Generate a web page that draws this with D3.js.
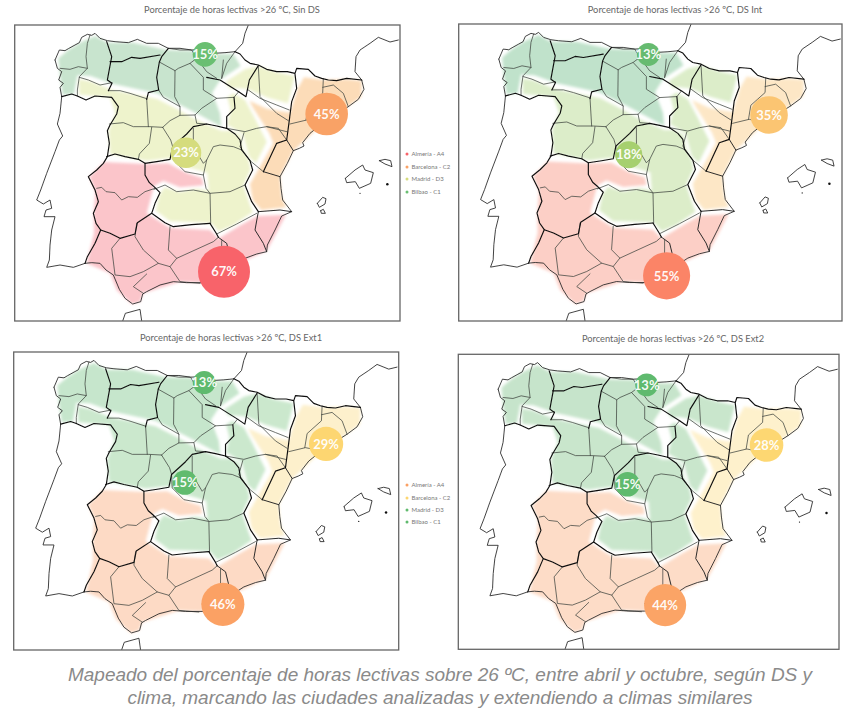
<!DOCTYPE html>
<html lang="es"><head><meta charset="utf-8">
<script src="https://cdn.jsdelivr.net/npm/d3@7"></script>
<style>html,body{margin:0;padding:0;background:#fff}svg{display:block}</style>
</head><body><div id="c"></div>
<script>
// ---------- Chart values ----------
const panelTitles = ["Porcentaje de horas lectivas >26 ºC, Sin DS","Porcentaje de horas lectivas >26 ºC, DS Int","Porcentaje de horas lectivas >26 ºC, DS Ext1","Porcentaje de horas lectivas >26 ºC, DS Ext2"];
const cityLabels = ["Almería - A4","Barcelona - C2","Madrid - D3","Bilbao - C1"];
const almeriaValues = [67,55,46,44];
const barcelonaValues = [45,35,29,28];
const madridValues = [23,18,15,15];
const bilbaoValues = [15,13,13,13];
const captionLines = ["Mapeado del porcentaje de horas lectivas sobre 26 ºC, entre abril y octubre, según DS y","clima, marcando las ciudades analizadas y extendiendo a climas similares"];

// ---------- Map geometry (map units of a common base map) ----------
const cityLocations = {
  almeria:[[672,815],[671,828],[672,827],[672,830]],
  barcelona:[[980,342],[980,347],[982,349],[980,348]],
  madrid:[[558,458],[557,466],[558,464],[558,466]],
  bilbao:[[615,163],[616,166],[616,166],[616,167]]
};
const zoneC1 = [[[175,175],[205,150],[240,128],[285,108],[322,128],[400,128],[500,150],[575,152],[640,162],[700,162],[722,198],[662,238],[636,278],[660,340],[664,380],[590,340],[540,314],[470,280],[340,252],[272,228],[232,226],[222,282],[188,284],[180,230]]];
const zoneD3 = [
 [[236,238],[270,244],[336,270],[470,296],[536,330],[586,358],[664,392],[692,392],[722,406],[728,444],[746,480],[752,508],[730,556],[748,610],[758,636],[700,676],[656,694],[632,668],[510,664],[468,632],[478,584],[494,562],[540,576],[590,566],[626,572],[622,518],[560,500],[510,474],[440,482],[330,462],[326,392],[346,340],[330,292],[238,284]],
 [[682,292],[700,280],[735,300],[762,350],[800,425],[768,490],[748,472],[728,402],[692,380],[682,375],[692,330]],
 [[676,246],[735,208],[775,199],[830,217],[884,228],[864,310],[800,292],[745,268],[712,264],[690,266]]
];
const zoneC2 = [[[912,232],[970,240],[1040,238],[1085,242],[1084,290],[1040,322],[1000,350],[960,378],[905,430],[880,452],[840,530],[845,590],[858,622],[784,630],[758,600],[750,552],[780,500],[820,430],[808,400],[760,325],[748,302],[800,326],[870,338],[892,268]]];
const zoneA4 = [[[312,486],[440,492],[505,490],[558,518],[606,534],[610,556],[540,562],[490,542],[462,558],[440,640],[510,684],[630,690],[655,716],[718,678],[772,648],[858,644],[815,725],[800,752],[750,775],[695,800],[650,850],[540,845],[430,880],[420,905],[395,912],[350,870],[330,820],[260,790],[282,700],[281,640],[286,575],[268,530]]];

const coastLines = [
 // Spain north coast
 [[165,180],[178,150],[195,152],[205,146],[225,135],[238,128],[245,112],[262,103],[275,106],[285,100],[300,115],[322,122],[345,125],[385,128],[412,118],[440,130],[475,130],[505,145],[540,145],[575,150],[610,148],[640,160],[675,158],[705,155]],
 // Spain west coast
 [[165,180],[172,205],[185,215],[176,240],[190,250],[180,262],[185,290]],
 // Mediterranean coast
 [[1085,240],[1092,268],[1075,298],[1045,320],[1005,345],[965,372],[930,400],[908,428],[912,438],[898,445],[880,452],[862,490],[840,530],[843,565],[848,600],[875,635],[845,648],[825,690],[802,735],[800,755],[770,762],[735,775],[712,790],[695,825],[660,850],[610,848],[560,848],[520,845],[480,855],[440,875],[428,882],[422,905],[398,912],[375,895],[358,868],[340,825],[318,810],[300,790],[275,788],[255,790]],
 // Portugal coast
 [[185,290],[180,340],[172,372],[188,408],[178,420],[165,455],[140,520],[122,570],[110,600],[130,612],[150,600],[155,625],[138,630],[132,650],[165,650],[155,690],[150,735],[148,780],[140,802],[180,795],[220,802],[255,790]],
 // France Atlantic
 [[705,155],[728,130],[735,100],[745,75]],
 // France Mediterranean
 [[1085,240],[1065,215],[1068,170],[1080,150],[1110,130],[1135,112],[1170,126],[1195,120]],
 // Morocco
 [[368,963],[376,940],[420,928],[425,963]],
 // Mallorca
 [[1036,535],[1065,510],[1088,495],[1095,510],[1120,518],[1112,550],[1078,565],[1066,545],[1040,548],[1036,535]],
 // Menorca
 [[1138,482],[1155,478],[1172,482],[1176,500],[1155,492],[1138,482]],
 // Ibiza
 [[952,610],[968,592],[978,596],[975,612],[958,622],[952,610]],
 // Formentera
 [[962,632],[970,628],[976,640],[964,640],[962,632]]
];
const thickBorders = [
 // Pyrenees
 [[705,155],[720,162],[735,180],[750,190],[775,195],[800,208],[830,215],[862,215],[885,220],[890,205],[925,208],[945,228],[965,235],[985,240],[1010,242],[1040,235],[1085,240]],
 // Spain-Portugal
 [[185,290],[215,282],[232,288],[258,300],[285,288],[335,292],[355,320],[350,342],[330,375],[322,392],[328,430],[322,470],[310,490],[290,510],[265,530],[285,570],[295,605],[280,640],[288,670],[302,690],[285,730],[262,770],[255,790]],
 // Castilla y León east / south
 [[320,470],[345,462],[375,470],[415,478],[435,490],[475,484],[510,478],[518,440],[560,402],[580,380],[620,372],[650,378],[680,385]],
 [[505,145],[485,170],[478,186],[470,232],[476,270],[445,278],[440,298]],
 [[320,125],[335,170],[322,240],[336,250],[325,272]],
 [[330,185],[365,185],[395,172],[420,175],[480,165]],
 // Extremadura / Castilla-La Mancha
 [[435,490],[435,525],[448,548],[462,560],[480,578],[465,610],[455,640],[495,668],[520,680],[575,674],[630,670]],
 // Andalucia north
 [[302,690],[330,700],[360,715],[405,702],[412,668],[455,640]],
 [[630,670],[650,702],[655,712]],
 // CLM east to Valencia
 [[680,385],[705,402],[720,420],[725,450],[750,482],[758,510],[735,555],[755,605],[775,635]],
 // Aragon / Navarra
 [[775,197],[748,240],[738,290],[716,275],[660,240],[620,232]],
 [[885,222],[890,265],[875,305],[868,360],[860,420],[830,430],[790,515]],
 [[680,385],[680,350],[705,325],[702,292]]
];
const mediumBorders = [
 [[860,420],[880,452]],
 [[790,515],[840,530]],
 [[775,635],[765,690],[790,730],[800,755]],
 [[655,712],[680,730],[690,770],[712,790]],
 [[775,635],[840,630],[875,635]]
];
const thinBorders = [
 // Galicia
 [[270,105],[262,130],[258,170],[262,205],[238,230],[232,270],[232,288]],
 [[180,205],[210,208],[235,200],[262,205]],
 [[238,232],[265,240],[300,255],[336,248]],
 // Castilla y Leon
 [[325,272],[360,272],[390,280],[440,296]],
 [[440,296],[445,380]],
 [[328,372],[370,368],[400,380],[450,380],[488,382]],
 [[455,382],[448,430],[418,462],[415,478]],
 [[488,382],[512,420],[518,440]],
 [[488,382],[510,362],[540,346],[540,320],[490,292],[476,270]],
 [[478,186],[525,212],[524,290],[540,320]],
 [[525,212],[535,205],[570,190],[590,175]],
 [[570,190],[610,232],[610,270],[650,295],[605,325],[585,345],[540,346]],
 [[585,345],[590,370],[620,372]],
 [[650,295],[702,292],[716,275]],
 [[590,175],[620,215],[650,235]],
 [[670,180],[665,235]],
 [[705,155],[680,190],[665,235]],
 [[505,145],[540,150],[575,150],[590,175]],
 // Aragon
 [[745,270],[780,295],[830,315],[868,330]],
 [[775,200],[780,290],[830,340],[865,362]],
 [[680,385],[735,395],[770,385],[800,380],[860,395]],
 [[732,398],[720,440],[750,482],[790,515]],
 [[800,380],[835,385],[860,420]],
 // Catalunya
 [[970,236],[968,280],[925,318],[918,360]],
 [[968,262],[1000,255],[1030,280],[1045,320]],
 [[870,372],[920,360],[945,365]],
 // CLM
 [[580,385],[580,440],[610,490],[620,480],[640,440],[660,435],[700,440],[725,450]],
 [[620,480],[610,525],[555,515],[520,480],[518,440]],
 [[610,525],[618,565],[630,580],[690,575],[735,555]],
 [[462,568],[495,555],[530,575],[580,570],[630,580],[632,670]],
 [[650,702],[710,672],[770,640]],
 // Extremadura
 [[290,565],[305,562],[318,575],[345,578],[365,600],[385,590],[412,592],[435,575],[465,565]],
 // Andalucia
 [[410,670],[405,710],[430,750],[475,790],[510,800],[530,775],[505,750],[510,680]],
 [[360,715],[335,745],[345,825],[390,830],[430,815],[475,790]],
 [[530,775],[585,750],[640,725],[655,712]],
 [[440,822],[400,860],[430,880]],
 [[510,800],[540,845],[600,850]],
 [[665,722],[665,770],[610,825]]
];
const mapDots = [[1162,553,3],[1080,580,1.5]];

// ---------- Panel styling ----------
const frames = [[14.7,25,400,321],[458.7,24,842,321],[13.7,352,398.7,650],[458.3,354.3,839,649.3]];
const titleAnchor = [[232,10],[675,9.5],[231,338],[673,339]];
const zoneFill = [
 {c1:"#c8e4ce",d3:"#eef3cc",c2:"#fcdcb8",a4:"#fbc5ca"},
 {c1:"#c0e2cb",d3:"#dcedc9",c2:"#fde7c6",a4:"#fccfc6"},
 {c1:"#c6e6cc",d3:"#cbe8cd",c2:"#fdf0cc",a4:"#fddac5"},
 {c1:"#c6e4cb",d3:"#c9e6cc",c2:"#fef1cc",a4:"#fddcc7"}];
const bubbleFill = [
 {almeria:"#f8636a",barcelona:"#f9a266",madrid:"#d5dc7d",bilbao:"#6abf72"},
 {almeria:"#fb8467",barcelona:"#fbc572",madrid:"#a6d06f",bilbao:"#66bb70"},
 {almeria:"#fba164",barcelona:"#fdd671",madrid:"#61bb6e",bilbao:"#5fba6e"},
 {almeria:"#fba466",barcelona:"#fdd772",madrid:"#5fba6e",bilbao:"#5fba6e"}];
const legendAt = {0:[407,[154,167,179,192]],2:[407,[485,498,510,522]]};

const W=850,H=716;
const svg=d3.select("#c").append("svg").attr("width",W).attr("height",H);
const defs=svg.append("defs");
const blurA=defs.append("filter").attr("id","soft").attr("x","-10%").attr("y","-10%").attr("width","120%").attr("height","120%");
blurA.append("feGaussianBlur").attr("stdDeviation",1.6);
const blurB=defs.append("filter").attr("id","ink").attr("x","-5%").attr("y","-5%").attr("width","110%").attr("height","110%");
blurB.append("feGaussianBlur").attr("stdDeviation",0.35);

const series={almeria:almeriaValues,barcelona:barcelonaValues,madrid:madridValues,bilbao:bilbaoValues};
const cityKeys=["almeria","barcelona","madrid","bilbao"];
const rScale=d3.scaleSqrt().domain([0,67]).range([0,26]);

panelTitles.forEach((title,i)=>{
  const [x0,y0,x1,y1]=frames[i];
  const x=d3.scaleLinear().domain([44,1200]).range([x0,x1]);
  const y=d3.scaleLinear().domain([75,963]).range([y0,y1]);
  const line=d3.line().x(d=>x(d[0])).y(d=>y(d[1]));
  const g=svg.append("g");
  const cid="clip"+i;
  defs.append("clipPath").attr("id",cid).append("rect").attr("x",x0).attr("y",y0).attr("width",x1-x0).attr("height",y1-y0);
  const map=g.append("g").attr("clip-path",`url(#${cid})`);
  const fills=map.append("g").attr("filter","url(#soft)");
  [["c1",zoneC1],["d3",zoneD3],["c2",zoneC2],["a4",zoneA4]].forEach(([k,polys])=>{
    fills.selectAll(null).data(polys).join("path").attr("d",d=>line(d)+"Z").attr("fill",zoneFill[i][k]);
  });
  const ink=map.append("g").attr("filter","url(#ink)").attr("fill","none").attr("stroke-linejoin","round").attr("stroke-linecap","round");
  ink.selectAll(null).data(thinBorders).join("path").attr("d",line).attr("stroke","#3f443f").attr("stroke-width",0.75);
  ink.selectAll(null).data(coastLines).join("path").attr("d",line).attr("stroke","#222").attr("stroke-width",0.85);
  ink.selectAll(null).data(mediumBorders).join("path").attr("d",line).attr("stroke","#222").attr("stroke-width",0.95);
  ink.selectAll(null).data(thickBorders).join("path").attr("d",line).attr("stroke","#111").attr("stroke-width",1.15);
  ink.selectAll(null).data(mapDots).join("circle").attr("cx",d=>x(d[0])).attr("cy",d=>y(d[1])).attr("r",d=>d[2]/2.4).attr("fill","#111").attr("stroke","none");
  g.append("rect").attr("x",x0).attr("y",y0).attr("width",x1-x0).attr("height",y1-y0).attr("fill","none").attr("stroke","#666").attr("stroke-width",1.3);
  cityKeys.forEach(k=>{
    const v=series[k][i],[cx,cy]=cityLocations[k][i];
    g.append("circle").attr("cx",x(cx)).attr("cy",y(cy)).attr("r",rScale(v)).attr("fill",bubbleFill[i][k]);
    g.append("text").attr("x",x(cx)).attr("y",y(cy)).attr("dy","0.36em").attr("text-anchor","middle")
      .attr("font-family","Lato, sans-serif").attr("font-weight",700).attr("font-size",13).attr("fill","#fff").attr("fill-opacity",0.95).text(v+"%");
  });
  g.append("text").attr("x",titleAnchor[i][0]).attr("y",titleAnchor[i][1]).attr("dy","0.35em").attr("text-anchor","middle")
    .attr("font-family","Lato, sans-serif").attr("font-size",9.3).attr("fill","#666").text(title);
  if(legendAt[i]){
    const [lx,ly]=legendAt[i];
    cityKeys.forEach((k,j)=>{
      g.append("circle").attr("cx",lx).attr("cy",ly[j]).attr("r",1.5).attr("fill",bubbleFill[i][k]);
      g.append("text").attr("x",lx+4.5).attr("y",ly[j]).attr("dy","0.35em").attr("font-family","Lato, sans-serif").attr("font-size",6).attr("fill","#777").text(cityLabels[j]);
    });
  }
});
captionLines.forEach((t,i)=>{
  svg.append("text").attr("x",440).attr("y",[674,697][i]).attr("dy","0.35em").attr("text-anchor","middle")
   .attr("font-family","'Liberation Sans', Arial, sans-serif").attr("font-style","italic").attr("font-size",19).attr("fill","#8a8a8a").text(t);
});
</script></body></html>
